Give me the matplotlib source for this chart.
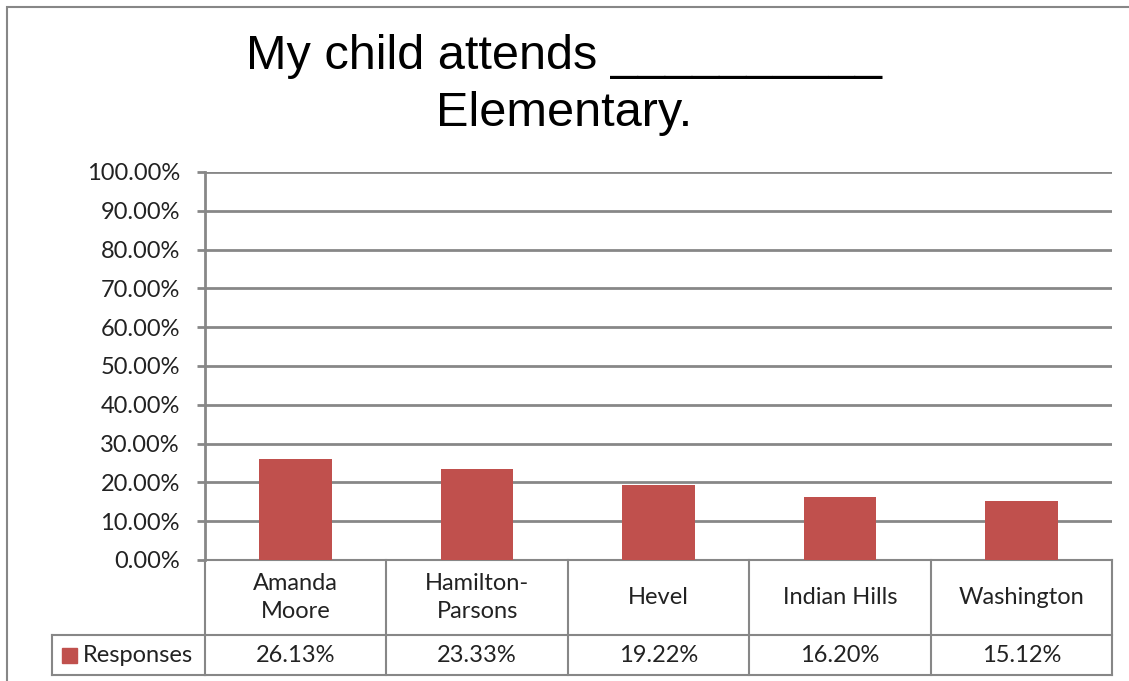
import matplotlib
matplotlib.use('Agg')
import matplotlib.pyplot as plt
from matplotlib.patches import Rectangle
from matplotlib.lines import Line2D

schools = ["Amanda\nMoore", "Hamilton-\nParsons", "Hevel", "Indian Hills", "Washington"]
responses = [26.13, 23.33, 19.22, 16.20, 15.12]
yticks = [0, 10, 20, 30, 40, 50, 60, 70, 80, 90, 100]
series_name = "Responses"

bar_color = "#C0504D"
grid_color = "#878787"
W, H = 1129, 681

fig = plt.figure(figsize=(W / 100, H / 100), dpi=100)
fig.patch.set_facecolor("white")

# outer chart frame (runs off right and bottom edges)
fig.patches.append(Rectangle((7 / W, -0.1), 1.2, 1 - 7 / H + 0.1, transform=fig.transFigure,
                             fill=False, edgecolor=grid_color, linewidth=1.5))

ax = fig.add_axes([205 / W, 1 - 560 / H, (1112 - 205) / W, (560 - 172) / H])
x = list(range(len(schools)))
ax.bar(x, responses, width=0.4, color=bar_color, zorder=3)
ax.set_xlim(-0.5, len(schools) - 0.5)
ax.set_ylim(0, 100)
ax.set_yticks(yticks)
ax.set_yticklabels([f"{v:.2f}%" for v in yticks], fontsize=17, family=["Lato", "DejaVu Sans"])
ax.set_xticks([])
ax.grid(axis="y", color=grid_color, linewidth=2, zorder=0)
for s in ["top", "right", "bottom"]:
    ax.spines[s].set_visible(False)
ax.spines["left"].set_color(grid_color)
ax.spines["left"].set_linewidth(2)
ax.tick_params(axis="y", length=6, width=2, color=grid_color, pad=12, labelcolor="#222222")

fig.text(0.5, 1 - 85 / H, "My child attends __________\nElementary.", ha="center", va="center",
         fontsize=35, family=["Liberation Sans", "DejaVu Sans"], linespacing=1.35)

# data table under the axis
tf = ax.get_xaxis_transform()
r1 = -75 / 388
r2 = -115 / 388
lw = 1.5
n = len(schools)
tab_font = ["Lato", "DejaVu Sans"]
ax.add_line(Line2D([-0.5, n - 0.5], [0, 0], transform=tf, color=grid_color, lw=lw, clip_on=False))
ax.add_line(Line2D([-0.5, n - 0.5], [r1, r1], transform=tf, color=grid_color, lw=lw, clip_on=False))
ax.add_line(Line2D([-0.5, n - 0.5], [r2, r2], transform=tf, color=grid_color, lw=lw, clip_on=False))
for k in range(n + 1):
    ax.add_line(Line2D([k - 0.5, k - 0.5], [0, r2], transform=tf, color=grid_color, lw=lw, clip_on=False))
for i, (name, val) in enumerate(zip(schools, responses)):
    ax.text(i, r1 / 2, name, transform=tf, ha="center", va="center", fontsize=17,
            family=tab_font, linespacing=1.45, color="#222222")
    ax.text(i, (r1 + r2) / 2, f"{val:.2f}%", transform=tf, ha="center", va="center",
            fontsize=17, family=tab_font, color="#222222")

# legend cell on the left
ax_tf = ax.transAxes
xl = (52 - 205) / 907
ax.add_line(Line2D([xl, 0], [r1, r1], transform=ax_tf, color=grid_color, lw=lw, clip_on=False))
ax.add_line(Line2D([xl, 0], [r2, r2], transform=ax_tf, color=grid_color, lw=lw, clip_on=False))
ax.add_line(Line2D([xl, xl], [r1, r2], transform=ax_tf, color=grid_color, lw=lw, clip_on=False))
ax.add_patch(Rectangle((xl + 10 / 907, (r1 + r2) / 2 - 7.5 / 388), 15 / 907, 15 / 388,
                       transform=ax_tf, color=bar_color, clip_on=False))
ax.text(xl + 31 / 907, (r1 + r2) / 2, series_name, transform=ax_tf, ha="left", va="center",
        fontsize=17, family=tab_font, color="#222222")

fig.savefig("out.png", dpi=100)
